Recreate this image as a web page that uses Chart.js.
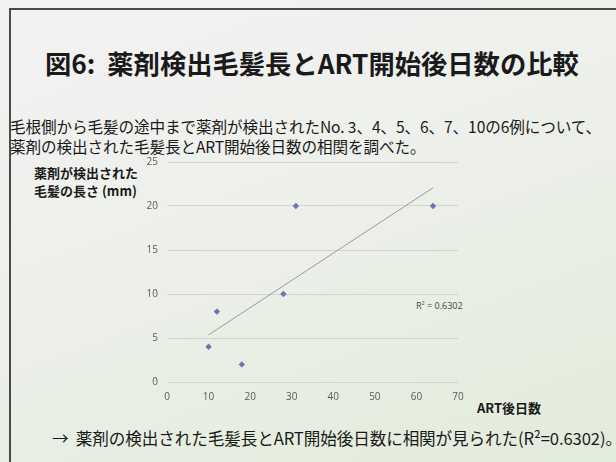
<!DOCTYPE html>
<html>
<head>
<meta charset="utf-8">
<script src="https://cdn.jsdelivr.net/npm/chart.js@4"></script>
<style>
  body {
    margin: 0;
    width: 616px;
    height: 462px;
    overflow: hidden;
    background: linear-gradient(160deg, #f3f3f1 0%, #eef0ec 40%, #e2ecda 100%);
    font-family: "Noto Sans CJK JP", sans-serif;
    position: relative;
  }
  .frame {
    position: absolute;
    left: 9px;
    top: 8px;
    width: 620px;
    height: 470px;
    border-top: 2px solid #4a4a4a;
    border-left: 2px solid #4a4a4a;
  }
  .txt { position: absolute; white-space: nowrap; color: #1a1a1a; }
  #title { left: 45px; top: 43px; font-size: 26.3px; font-weight: bold; letter-spacing: 0px; }
  #sub1 { left: 10px; top: 115px; font-size: 15.6px; letter-spacing: -0.1px; }
  #sub2 { left: 10px; top: 135px; font-size: 15.6px; letter-spacing: -0.1px; }
  #ytitle { left: 34px; top: 164px; font-size: 13px; font-weight: bold; line-height: 18px; }
  #xtitle { left: 477px; top: 398px; font-size: 13px; font-weight: bold; }
  #r2 { left: 416px; top: 299px; font-size: 9px; color: #444; font-family: "Open Sans", sans-serif; }
  #note { left: 52px; top: 426px; font-size: 16.6px; letter-spacing: -0.1px; }
  #box { position: absolute; left: 120px; top: 147px; width: 360px; height: 260px; }
</style>
</head>
<body>
<div class="frame"></div>
<div class="txt" id="title">図6:&nbsp;&nbsp;薬剤検出毛髪長とART開始後日数の比較</div>
<div class="txt" id="sub1">毛根側から毛髪の途中まで薬剤が検出されたNo. 3、4、5、6、7、10の6例について、</div>
<div class="txt" id="sub2">薬剤の検出された毛髪長とART開始後日数の相関を調べた。</div>
<div class="txt" id="ytitle">薬剤が検出された<br>毛髪の長さ (mm)</div>
<div class="txt" id="xtitle">ART後日数</div>
<div class="txt" id="r2">R² = 0.6302</div>
<div class="txt" id="note">→&nbsp;&nbsp;薬剤の検出された毛髪長とART開始後日数に相関が見られた(R²=0.6302)。</div>
<div id="box"><canvas id="myChart"></canvas></div>

<script>
// days after ART start vs hair length with drug detected (mm)
const days = [10, 12, 18, 28, 31, 64];
const hairLength = [4, 8, 2, 10, 20, 20];
const xTicks = [0, 10, 20, 30, 40, 50, 60, 70];
const yTicks = [0, 5, 10, 15, 20, 25];

// least squares trend line (Excel linear trendline)
let n = days.length;
let mx = days.reduce((a, b) => a + b, 0) / n;
let my = hairLength.reduce((a, b) => a + b, 0) / n;
let sxy = 0, sxx = 0;
for (let i = 0; i < n; i++) {
  sxy += (days[i] - mx) * (hairLength[i] - my);
  sxx += (days[i] - mx) * (days[i] - mx);
}
let slope = sxy / sxx;
let icpt = my - slope * mx;
let xmin = Math.min(...days), xmax = Math.max(...days);

const ctx = document.getElementById('myChart');

new Chart(ctx, {
  type: 'scatter',
  data: {
    datasets: [{
      label: 'data',
      data: days.map((d, i) => ({ x: d, y: hairLength[i] })),
      pointStyle: 'rectRot',
      pointRadius: 3.2,
      backgroundColor: '#6c74b6',
      borderColor: '#6c74b6',
      borderWidth: 0
    },
    {
      label: 'trend',
      type: 'line',
      data: [{ x: xmin, y: icpt + slope * xmin }, { x: xmax, y: icpt + slope * xmax }],
      borderColor: '#9a9a9a',
      borderWidth: 1,
      pointRadius: 0
    }]
  },
  options: {
    responsive: true,
    maintainAspectRatio: false,
    animation: false,
    layout: { padding: { top: 10, right: 22, bottom: 0, left: 0 } },
    scales: {
      x: {
        type: 'linear',
        min: 0,
        max: 70,
        afterBuildTicks: s => { s.ticks = xTicks.map(v => ({ value: v })); },
        afterFit: s => { s.height = 25; },
        grid: { display: false, drawTicks: false },
        border: { display: false },
        ticks: { padding: 9, color: '#5a5a5a', font: { family: 'Open Sans', size: 10 } }
      },
      y: {
        min: 0,
        max: 25,
        afterBuildTicks: s => { s.ticks = yTicks.map(v => ({ value: v })); },
        afterFit: s => { s.width = 47; },
        grid: { color: '#d2d4d0', drawTicks: false },
        border: { display: false },
        ticks: { padding: 9, color: '#5a5a5a', font: { family: 'Open Sans', size: 10 } }
      }
    },
    plugins: {
      legend: { display: false },
      tooltip: { enabled: false }
    }
  }
});
</script>
</body>
</html>
